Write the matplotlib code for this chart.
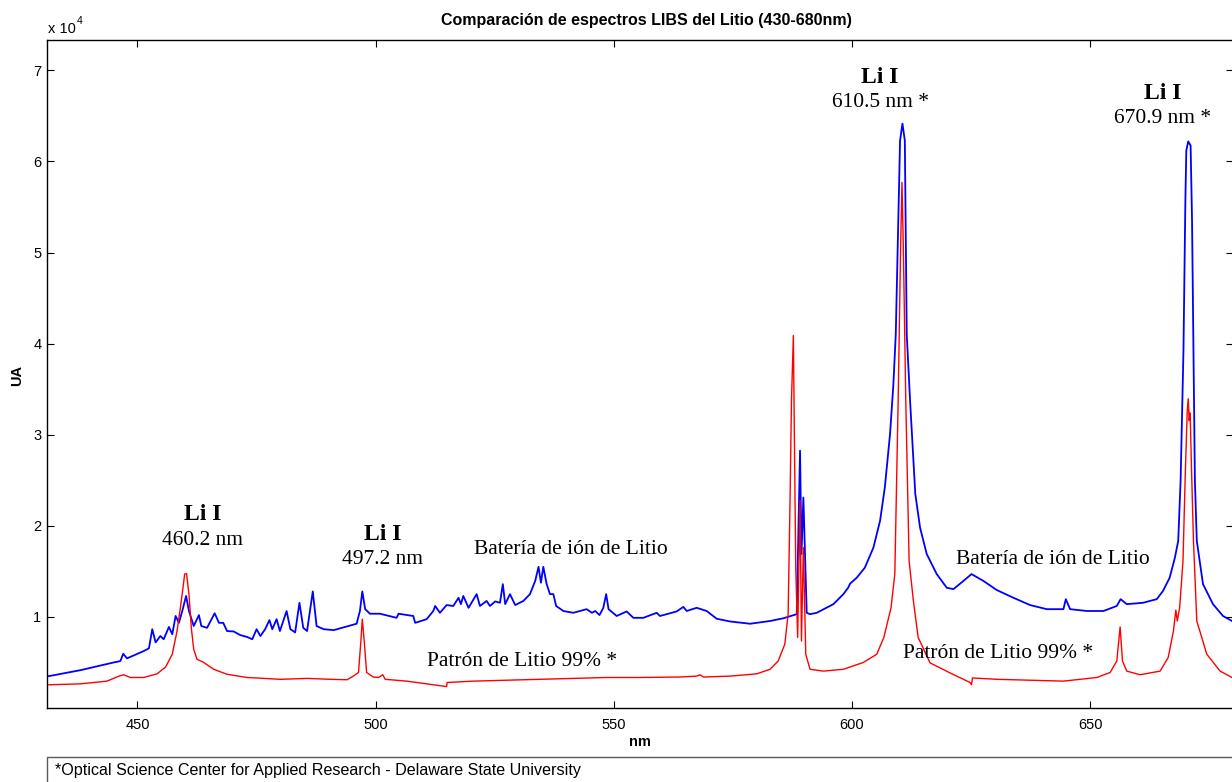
import matplotlib
matplotlib.use("Agg")
import matplotlib.pyplot as plt
from matplotlib.patches import Rectangle

# Espectro LIBS - bateria de ion de litio (azul)
bat_nm = [431.4, 438.0, 445.0, 446.4, 447.0, 447.8, 451.3, 452.4, 453.1, 453.8,
          454.8, 455.5, 456.6, 457.3, 458.0, 458.7, 459.4, 460.2, 460.8, 461.8,
          462.9, 463.4, 464.6, 466.2, 467.1, 468.0, 468.8, 470.2, 471.6, 473.0,
          474.1, 475.0, 475.8, 476.8, 477.7, 478.3, 479.2, 479.9, 481.3, 482.1,
          483.1, 484.0, 484.8, 485.6, 486.8, 487.6, 489.1, 491.2, 493.6, 496.0,
          496.7, 497.2, 497.8, 498.8, 500.9, 504.4, 504.8, 507.9, 508.3, 510.7,
          512.1, 512.5, 513.5, 514.9, 516.3, 517.4, 517.9, 518.4, 519.5, 521.2,
          521.9, 523.3, 524.0, 525.1, 526.1, 526.7, 527.2, 528.2, 529.3, 531.0,
          532.4, 533.5, 534.2, 534.7, 535.2, 535.9, 536.6, 537.3, 537.9, 539.4,
          541.5, 544.3, 545.4, 546.1, 547.0, 547.8, 548.4, 548.9, 550.6, 552.7,
          554.1, 556.2, 559.0, 559.7, 563.2, 564.6, 565.3, 567.4, 569.5, 571.6,
          574.4, 578.6, 582.8, 585.6, 588.4, 589.1, 589.4, 589.8, 590.5, 591.2,
          592.6, 596.1, 598.2, 599.2, 599.6, 601.0, 602.7, 604.5, 605.9, 606.9,
          608.0, 608.7, 609.2, 610.1, 610.6, 611.1, 611.5, 612.2, 613.3, 614.3,
          615.7, 617.8, 619.9, 621.3, 623.4, 625.1, 627.6, 630.4, 633.9, 637.4,
          640.9, 644.4, 644.9, 645.8, 649.3, 652.8, 655.6, 656.4, 657.7, 661.1,
          664.0, 665.3, 666.7, 667.8, 668.5, 669.0, 669.6, 670.0, 670.2, 670.6,
          671.1, 671.4, 671.7, 672.0, 672.4, 673.7, 675.8, 677.9, 679.8]
bat_ua = [3500, 4150, 5000, 5150, 5950, 5450, 6250, 6550, 8650, 7200,
          7900, 7550, 8900, 8100, 10100, 9350, 10650, 12300, 10650, 9000,
          10200, 9000, 8800, 10400, 9350, 9350, 8450, 8400, 8000, 7800,
          7550, 8650, 7900, 8650, 9650, 8650, 9750, 8450, 10650, 8650,
          8300, 11550, 8800, 8450, 12800, 9000, 8650, 8550, 8900, 9250,
          10650, 12800, 10850, 10350, 10350, 9900, 10350, 10100, 9350, 9750,
          10650, 11200, 10450, 11300, 11200, 12100, 11400, 12300, 11000, 12500,
          11200, 11750, 11200, 11700, 11550, 13600, 11400, 12500, 11300, 11750,
          12500, 13950, 15500, 13750, 15500, 13600, 12500, 12500, 11200, 10650,
          10450, 10850, 10450, 10650, 10200, 11000, 12500, 10850, 10100, 10600,
          9900, 9900, 10450, 10100, 10600, 11100, 10650, 11000, 10650, 9800,
          9500, 9250, 9550, 9850, 10300, 28250, 16900, 23100, 10450, 10300,
          10450, 11400, 12500, 13200, 13650, 14300, 15400, 17600, 20550, 24200,
          30100, 35550, 41050, 62300, 64150, 62300, 41050, 33750, 23500, 19800,
          16900, 14700, 13200, 13050, 13950, 14700, 13950, 12950, 12100, 11300,
          10850, 10850, 11950, 10850, 10650, 10650, 11200, 11950, 11400, 11550,
          11950, 12850, 14300, 16500, 18350, 24950, 39250, 55700, 61200, 62200,
          61750, 53500, 39250, 24950, 18350, 13600, 11400, 10100, 9550]

# Patron de litio 99% (rojo)
pat_nm = [431.4, 438.0, 443.6, 446.1, 447.1, 448.5, 451.3, 454.1, 455.9, 457.3,
          458.3, 459.0, 459.6, 459.9, 460.3, 460.8, 461.3, 461.8, 462.5, 463.9,
          466.0, 468.8, 473.0, 480.0, 485.6, 490.5, 494.0, 495.3, 496.4, 496.9,
          497.2, 497.6, 498.1, 499.5, 500.6, 501.5, 502.0, 506.5, 514.9, 515.0,
          520.5, 534.5, 548.5, 555.5, 563.9, 567.4, 568.1, 568.8, 574.4, 580.0,
          582.8, 584.5, 585.9, 586.6, 587.0, 587.3, 587.7, 587.9, 588.2, 588.6,
          589.1, 589.4, 589.8, 590.3, 591.2, 594.0, 598.2, 602.4, 605.2, 606.7,
          608.2, 609.0, 609.7, 610.2, 610.5, 610.8, 611.3, 612.0, 612.9, 613.9,
          616.4, 620.6, 624.8, 625.1, 625.3, 630.4, 644.4, 651.4, 654.2, 655.6,
          656.3, 656.8, 657.7, 660.5, 664.7, 666.4, 667.5, 668.0, 668.3, 668.8,
          669.5, 670.0, 670.4, 670.6, 670.8, 671.0, 671.3, 671.7, 672.4, 674.5,
          677.3, 679.8]
pat_ua = [2550, 2650, 2950, 3500, 3650, 3350, 3350, 3750, 4500, 5900,
          8450, 11000, 13400, 14700, 14750, 12500, 8800, 6450, 5350, 5000,
          4250, 3700, 3350, 3150, 3250, 3150, 3100, 3500, 3900, 7350,
          9750, 7350, 3900, 3400, 3350, 3650, 3150, 2950, 2350, 2800,
          2950, 3150, 3350, 3350, 3400, 3500, 3650, 3400, 3500, 3750,
          4250, 5150, 7000, 10300, 22750, 33750, 40900, 30450, 15400, 7750,
          22750, 7350, 17600, 5900, 4250, 4050, 4250, 5000, 5900, 7750,
          11000, 14700, 33750, 50200, 57700, 50200, 33750, 16150, 11750, 7750,
          4950, 3850, 2800, 2550, 3300, 3150, 2950, 3350, 3900, 5150,
          8900, 5150, 4050, 3650, 4050, 5550, 8450, 10750, 9550, 11000,
          16150, 26050, 32650, 33950, 31550, 32400, 26050, 18350, 9550, 5900,
          4050, 3350]

x_ticks = [450, 500, 550, 600, 650]
y_ticks = [10000, 20000, 30000, 40000, 50000, 60000, 70000]

# etiquetas: (texto negrita, texto normal, x, y_negrita, y_normal)
lineas_li = [("Li I", "460.2 nm", 463.6, 21200, 18350),
             ("Li I", "497.2 nm", 501.5, 19100, 16350),
             ("Li I", "610.5 nm *", 605.9, 69250, 66500),
             ("Li I", "670.9 nm *", 665.3, 67500, 64750)]
etiquetas = [("Batería de ión de Litio", 541.0, 17350),
             ("Batería de ión de Litio", 642.2, 16350),
             ("Patrón de Litio 99% *", 530.7, 5050),
             ("Patrón de Litio 99% *", 630.6, 5950)]

sans = ["Liberation Sans", "DejaVu Sans"]
serif = ["Liberation Serif", "DejaVu Serif"]

fig = plt.figure(figsize=(12.32, 7.82), dpi=100)
ax = fig.add_axes([47/1232, 1 - 708/782, 1186/1232, 667.7/782])

ax.plot(bat_nm, bat_ua, color=(0, 0, 1), lw=1.3)
ax.plot(pat_nm, pat_ua, color=(1, 0, 0), lw=1.0)

ax.set_xlim(431, 680)
ax.set_ylim(0, 73300)
ax.set_xticks(x_ticks)
ax.set_yticks(y_ticks)
ax.set_xticklabels([str(v) for v in x_ticks], family=sans, fontsize=10.5)
ax.set_yticklabels([str(v // 10000) for v in y_ticks], family=sans, fontsize=10.5)
ax.tick_params(axis="x", direction="in", top=True, length=5, width=0.8, pad=7)
ax.tick_params(axis="y", direction="in", right=True, length=5, width=0.8, pad=4)
for s in ax.spines.values():
    s.set_linewidth(1.0)

ax.set_xlabel("nm", family=sans, fontsize=10.5, fontweight="bold", labelpad=2)
fig.text(17/1232, 1 - 375/782, "UA", family=sans, fontsize=10.5, fontweight="bold",
         rotation=90, ha="center", va="center")

fig.text(646/1232, 1 - 21/782, "Comparación de espectros LIBS del Litio (430-680nm)",
         family=sans, fontsize=11.5, fontweight="bold", ha="center", va="center")
fig.text(48/1232, 1 - 29/782, "x 10", family=sans, fontsize=10.5, ha="left", va="center")
fig.text(77/1232, 1 - 21/782, "4", family=sans, fontsize=7.5, ha="left", va="center")

for neg, norm, x, y1, y2 in lineas_li:
    ax.text(x, y1, neg, family=serif, fontsize=17, fontweight="bold", ha="center", va="center")
    ax.text(x, y2, norm, family=serif, fontsize=15.5, ha="center", va="center")
for t, x, y in etiquetas:
    ax.text(x, y, t, family=serif, fontsize=15.5, ha="center", va="center")

# recuadro de la nota al pie
fig.add_artist(Rectangle((47/1232, -0.02), 1.0, 0.02 + 25/782, transform=fig.transFigure,
                         fill=False, edgecolor="0.35", lw=1.0))
fig.text(55/1232, 1 - 771/782,
         "*Optical Science Center for Applied Research - Delaware State University",
         family=sans, fontsize=11.6, ha="left", va="center")

fig.savefig("out.png", dpi=100)
